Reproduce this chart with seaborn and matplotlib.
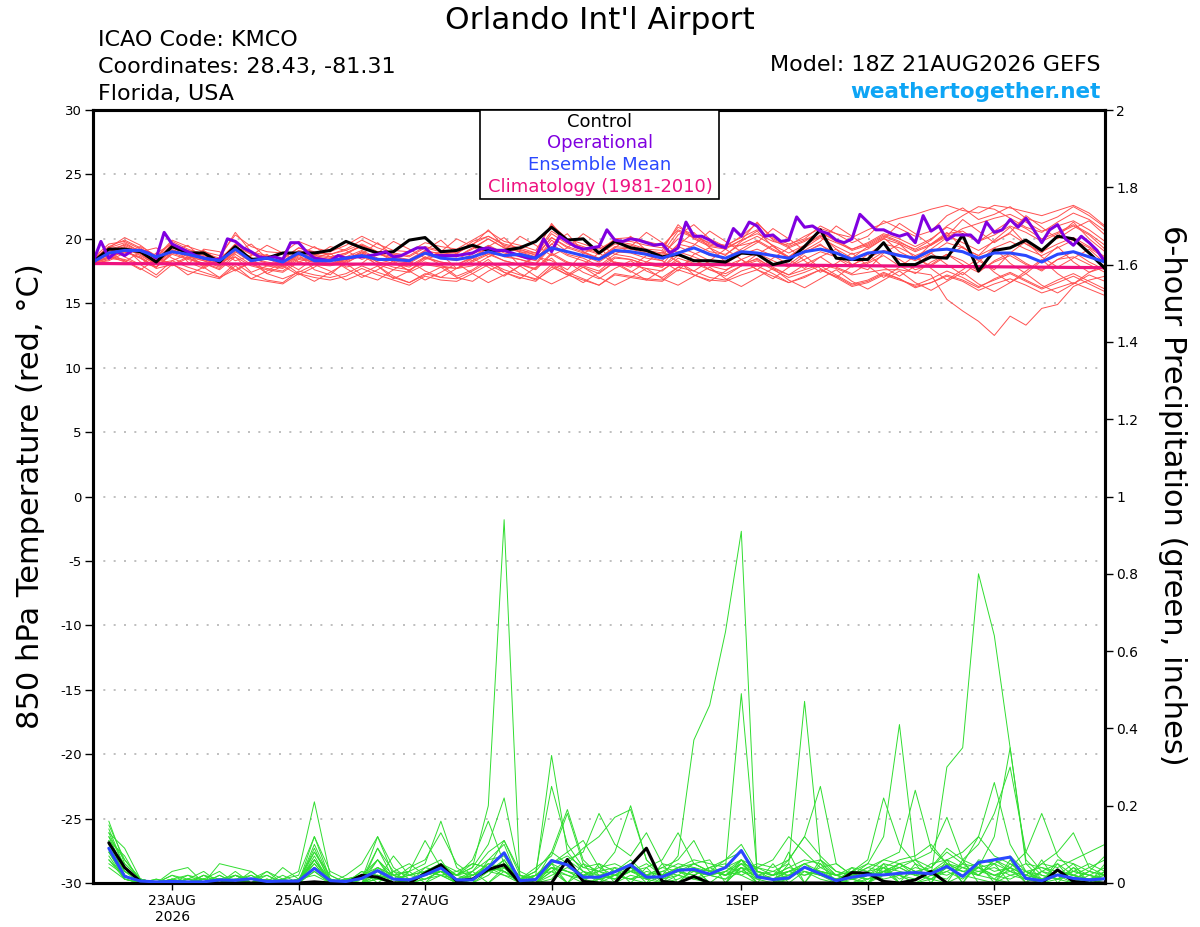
import numpy as np
import pandas as pd
import matplotlib
matplotlib.use("Agg")
import matplotlib.pyplot as plt
from matplotlib.patches import Rectangle
import seaborn as sns

# GEFS 18Z run, 6-hourly out to 384 h (operational is 3-hourly)
RUN_START = "2026-08-21 18:00"

tick_dates = ["2026-08-23", "2026-08-25", "2026-08-27", "2026-08-29",
              "2026-09-01", "2026-09-03", "2026-09-05"]
tick_labels = ["23AUG\n2026", "25AUG", "27AUG", "29AUG", "1SEP", "3SEP", "5SEP"]
temp_ticks = [-30, -25, -20, -15, -10, -5, 0, 5, 10, 15, 20, 25, 30]
precip_ticks = [0, 0.2, 0.4, 0.6, 0.8, 1.0, 1.2, 1.4, 1.6, 1.8, 2.0]
precip_tick_labels = ["0", "0.2", "0.4", "0.6", "0.8", "1", "1.2", "1.4", "1.6", "1.8", "2"]

legend_labels = ["Control", "Operational", "Ensemble Mean", "Climatology (1981-2010)"]
legend_colors = ["black", "#8000e0", "#2a48ff", "#ee1280"]

# 850 hPa temperature (C), 65 steps
control_temp = [
    18.2, 19.2, 19.2, 19.0, 18.2, 19.4, 18.9, 18.9, 18.2, 19.4, 18.4, 18.5, 18.9,
    18.9, 18.9, 19.1, 19.8, 19.3, 18.9, 19.0, 19.9, 20.1, 19.0, 19.1, 19.5, 19.1,
    19.1, 19.3, 19.8, 20.9, 19.9, 20.0, 18.9, 19.8, 19.3, 19.1, 18.6, 18.8, 18.3,
    18.3, 18.2, 18.9, 18.8, 18.0, 18.3, 19.4, 20.7, 18.5, 18.4, 18.4, 19.7, 18.0,
    18.0, 18.6, 18.5, 20.3, 17.5, 19.1, 19.3, 19.9, 19.1, 20.2, 20.0, 18.9, 17.7,
]
mean_temp = [
    18.2, 18.9, 19.1, 19.1, 18.6, 19.0, 18.8, 18.5, 18.3, 19.2, 18.3, 18.5, 18.2,
    18.9, 18.3, 18.3, 18.5, 18.7, 18.4, 18.4, 18.3, 18.9, 18.5, 18.4, 18.6, 19.0,
    18.7, 18.8, 18.5, 19.3, 19.0, 18.7, 18.4, 19.1, 19.0, 18.8, 18.5, 18.9, 19.3,
    18.8, 18.5, 19.0, 18.9, 18.7, 18.5, 19.0, 19.2, 18.9, 18.4, 18.9, 19.0, 18.7,
    18.5, 19.1, 19.2, 19.0, 18.5, 18.9, 18.9, 18.7, 18.2, 18.8, 19.0, 18.6, 18.2,
]
climatology_temp = [
    18.08, 18.08, 18.07, 18.07, 18.07, 18.06, 18.06, 18.06, 18.06, 18.05, 18.05, 18.05, 18.05,
    18.05, 18.05, 18.04, 18.04, 18.04, 18.04, 18.04, 18.04, 18.04, 18.04, 18.04, 18.04, 18.04,
    18.04, 18.04, 18.04, 18.04, 18.03, 18.03, 18.03, 18.03, 18.02, 18.02, 18.02, 18.01, 18.01,
    18.00, 18.00, 17.99, 17.98, 17.97, 17.96, 17.95, 17.94, 17.93, 17.92, 17.91, 17.90, 17.89,
    17.88, 17.87, 17.86, 17.85, 17.84, 17.83, 17.82, 17.81, 17.80, 17.79, 17.78, 17.77, 17.76,
]
# operational, 129 steps (3-hourly)
operational_temp = [
    18.2, 19.8, 18.5, 19.0, 18.7, 19.1, 19.1, 18.9, 18.5, 20.5,
    19.6, 19.3, 19.0, 18.7, 18.5, 18.4, 18.4, 20.0, 19.8, 19.3,
    19.0, 18.6, 18.5, 18.6, 18.4, 19.7, 19.7, 19.0, 18.5, 18.4,
    18.3, 18.7, 18.5, 18.6, 18.6, 18.7, 18.8, 19.0, 18.6, 18.7,
    19.0, 19.3, 19.3, 18.7, 18.7, 18.7, 18.7, 18.8, 18.9, 19.2,
    19.3, 19.1, 19.1, 18.9, 18.7, 18.5, 18.5, 20.0, 19.0, 20.2,
    19.8, 19.4, 19.2, 19.3, 19.4, 20.7, 19.9, 19.8, 20.0, 19.9,
    19.7, 19.5, 19.6, 18.9, 19.3, 21.3, 20.2, 20.2, 19.9, 19.5,
    19.3, 20.8, 20.2, 21.3, 21.0, 20.2, 20.3, 19.8, 19.9, 21.7,
    20.9, 21.0, 20.6, 20.4, 19.9, 19.7, 20.0, 21.9, 21.3, 20.7,
    20.7, 20.4, 20.2, 20.4, 19.7, 21.8, 20.6, 21.0, 19.9, 20.3,
    20.3, 20.3, 19.7, 21.3, 20.5, 20.7, 21.5, 20.9, 21.6, 20.7,
    19.7, 20.7, 21.1, 20.0, 19.5, 20.2, 19.7, 19.1, 18.2,
]
temp_members = [
    [18.2, 19.0, 19.4, 18.8, 18.0, 19.2, 18.6, 18.3, 17.9, 19.0, 18.2, 18.0, 17.8,
     18.6, 18.3, 18.1, 18.4, 18.9, 18.2, 18.0, 17.9, 18.6, 18.2, 18.0, 18.5, 19.3,
     18.6, 18.4, 18.1, 19.6, 18.8, 18.5, 17.9, 18.8, 18.6, 18.2, 18.0, 19.4, 18.9,
     18.3, 18.1, 18.8, 19.2, 18.7, 18.0, 18.9, 19.6, 18.5, 17.8, 18.2, 19.0, 18.4,
     17.6, 18.0, 18.8, 18.3, 17.5, 18.2, 18.7, 18.0, 17.6, 18.4, 18.6, 18.0, 17.4],
    [18.4, 19.3, 20.1, 19.5, 18.6, 19.9, 19.4, 19.0, 18.7, 20.3, 19.4, 19.0, 18.9,
     19.8, 19.3, 19.0, 19.5, 20.2, 19.6, 19.1, 19.0, 19.7, 19.4, 19.2, 19.9, 20.6,
     19.8, 19.5, 19.1, 21.1, 20.0, 19.6, 19.2, 19.9, 19.8, 19.5, 19.3, 20.9, 20.3,
     19.6, 19.4, 20.2, 21.2, 20.1, 19.6, 20.0, 21.0, 20.4, 19.7, 20.2, 21.4, 20.8,
     20.2, 20.6, 21.8, 22.4, 21.5, 21.9, 22.5, 21.6, 21.2, 21.7, 22.5, 21.8, 20.9],
    [18.1, 18.6, 18.4, 18.0, 17.2, 18.3, 17.8, 17.4, 17.0, 18.1, 17.3, 16.8, 16.6,
     17.5, 17.2, 17.0, 17.3, 17.9, 17.4, 17.0, 16.6, 17.3, 17.0, 16.9, 17.5, 18.2,
     17.6, 17.2, 16.9, 18.0, 17.4, 16.9, 16.4, 17.3, 17.1, 16.9, 16.8, 17.8, 17.5,
     17.0, 16.8, 17.5, 17.9, 17.3, 16.6, 17.0, 17.6, 17.1, 16.4, 16.7, 17.3, 16.9,
     16.3, 16.6, 17.1, 16.7, 16.0, 16.5, 16.9, 16.4, 15.8, 16.2, 16.6, 16.1, 15.6],
    [18.3, 18.9, 19.0, 18.6, 17.8, 18.8, 18.4, 18.1, 17.6, 18.6, 17.9, 17.6, 17.4,
     18.2, 18.0, 17.9, 18.2, 18.7, 18.0, 17.6, 17.4, 18.0, 17.8, 17.7, 18.2, 18.8,
     18.3, 18.0, 17.7, 18.9, 18.2, 17.9, 17.5, 18.5, 18.4, 18.0, 17.8, 18.7, 18.3,
     17.9, 17.6, 18.1, 18.4, 17.8, 17.2, 17.6, 18.0, 17.7, 17.2, 17.4, 17.6, 17.6,
     17.4, 17.2, 15.3, 14.4, 13.6, 12.5, 14.0, 13.3, 14.6, 14.9, 16.3, 16.8, 17.1],
    [18.2, 18.8, 19.2, 18.9, 18.3, 19.5, 19.0, 18.6, 18.3, 19.4, 18.8, 18.5, 18.3,
     19.0, 18.7, 18.5, 18.9, 19.4, 18.8, 18.5, 18.3, 18.9, 18.7, 18.6, 19.3, 20.0,
     19.3, 19.0, 18.8, 20.4, 19.6, 19.2, 18.8, 19.6, 19.5, 19.1, 18.9, 20.6, 20.1,
     19.5, 19.3, 19.9, 20.4, 19.8, 19.5, 20.2, 20.8, 20.4, 20.1, 20.7, 21.2, 21.6,
     21.9, 22.3, 22.6, 22.2, 22.0, 22.6, 22.4, 22.1, 21.8, 22.2, 22.6, 22.0, 21.0],
    [18.0, 18.4, 19.1, 18.9, 18.1, 18.3, 18.8, 17.9, 18.2, 18.6, 17.4, 17.9, 18.3,
     17.6, 18.5, 18.9, 17.8, 18.1, 19.0, 18.2, 17.5, 18.4, 18.8, 17.7, 17.9, 18.6,
     19.2, 17.9, 18.6, 18.3, 17.6, 18.9, 19.4, 18.1, 17.8, 18.7, 18.3, 17.5, 18.8,
     19.3, 18.2, 17.9, 18.8, 19.5, 18.4, 17.7, 18.6, 19.2, 18.0, 17.6, 18.9, 19.6,
     18.5, 17.9, 18.7, 19.4, 18.3, 17.6, 18.9, 19.8, 18.6, 17.8, 18.5, 19.2, 18.1],
    [18.5, 19.6, 19.8, 19.2, 18.4, 19.6, 19.1, 18.9, 18.5, 20.5, 19.0, 18.7, 18.5,
     19.3, 18.9, 18.8, 19.1, 19.6, 19.0, 18.8, 18.6, 19.3, 19.0, 18.9, 19.5, 20.7,
     19.4, 19.1, 18.9, 21.2, 19.7, 19.3, 18.9, 19.8, 19.6, 19.2, 19.1, 21.1, 20.0,
     19.4, 19.2, 19.9, 21.3, 19.9, 19.3, 19.8, 20.5, 19.9, 19.2, 19.6, 20.3, 19.8,
     19.1, 19.6, 20.3, 19.7, 19.1, 19.8, 20.4, 19.6, 19.0, 19.6, 20.1, 19.4, 18.6],
    [18.3, 19.4, 18.6, 18.0, 18.9, 19.6, 18.2, 17.7, 18.4, 19.1, 18.6, 17.3, 17.9,
     18.8, 17.6, 17.2, 18.3, 19.0, 17.9, 16.9, 17.5, 18.6, 18.0, 17.1, 17.6, 18.4,
     17.4, 16.9, 17.8, 18.5, 17.3, 16.6, 17.4, 18.2, 17.5, 16.8, 17.6, 18.3, 17.2,
     16.7, 17.5, 18.4, 17.6, 16.9, 17.8, 18.7, 17.7, 17.0, 17.9, 18.8, 17.8, 17.1,
     17.9, 18.9, 18.0, 17.2, 18.2, 19.3, 18.1, 17.3, 18.3, 19.4, 18.2, 17.4, 17.8],
    [18.2, 18.9, 19.6, 19.0, 18.2, 19.3, 18.9, 18.5, 18.1, 19.3, 18.5, 18.2, 18.0,
     18.9, 18.5, 18.3, 18.6, 19.1, 18.5, 18.3, 18.1, 18.8, 18.5, 18.3, 18.8, 19.5,
     18.9, 18.6, 18.3, 19.9, 19.0, 18.7, 18.2, 19.0, 18.9, 18.5, 18.3, 19.6, 19.3,
     18.7, 18.5, 19.2, 19.9, 19.2, 18.6, 19.3, 20.1, 19.4, 18.8, 19.2, 20.0, 19.6,
     19.0, 19.5, 20.4, 20.6, 19.8, 20.3, 21.0, 20.5, 19.8, 20.4, 21.0, 20.3, 19.2],
    [18.1, 18.5, 19.3, 18.2, 17.8, 19.0, 19.5, 18.4, 18.0, 18.9, 19.6, 18.5, 17.9,
     18.7, 19.4, 18.6, 18.1, 18.8, 19.7, 18.7, 18.2, 19.1, 19.9, 18.8, 18.3, 19.4,
     20.1, 18.9, 18.5, 19.6, 20.4, 19.0, 18.4, 19.3, 20.2, 19.1, 18.6, 19.5, 20.5,
     19.3, 18.7, 19.8, 20.6, 19.4, 18.6, 19.5, 20.3, 19.2, 18.5, 19.4, 20.1, 19.0,
     18.4, 19.6, 20.5, 19.3, 18.7, 19.9, 20.9, 19.6, 18.9, 20.2, 21.3, 20.0, 19.0],
    [18.3, 19.2, 19.5, 18.9, 18.1, 19.4, 18.8, 18.4, 18.0, 19.1, 18.5, 18.1, 17.9,
     18.8, 18.6, 18.4, 18.8, 19.5, 18.9, 18.4, 18.2, 19.0, 18.9, 18.8, 19.8, 20.2,
     19.5, 19.2, 18.7, 20.1, 19.4, 19.0, 18.5, 19.3, 19.2, 18.9, 18.6, 20.3, 21.1,
     20.0, 19.4, 19.5, 19.8, 19.1, 18.6, 19.0, 19.5, 18.9, 18.4, 18.8, 19.6, 19.3,
     18.7, 19.2, 20.1, 20.8, 21.2, 21.6, 21.9, 21.3, 20.6, 21.0, 21.4, 20.7, 19.8],
    [18.2, 18.6, 19.0, 18.5, 17.7, 18.0, 18.6, 17.8, 17.0, 17.6, 18.2, 17.3, 16.9,
     17.4, 18.0, 17.5, 16.8, 17.3, 17.9, 17.1, 16.6, 17.2, 17.8, 17.0, 16.7, 17.5,
     18.1, 17.3, 16.8, 17.6, 18.2, 17.4, 16.9, 17.7, 18.3, 17.5, 17.0, 17.8, 18.4,
     17.6, 17.1, 17.9, 18.5, 17.7, 17.2, 18.0, 18.6, 17.8, 17.3, 18.1, 18.7, 17.9,
     17.3, 18.2, 18.8, 18.0, 17.4, 18.3, 18.9, 18.1, 17.5, 18.4, 19.0, 18.2, 17.6],
    [18.4, 19.4, 19.9, 19.3, 18.5, 19.8, 19.2, 18.8, 18.4, 19.6, 18.9, 18.6, 18.4,
     19.3, 19.0, 18.8, 19.2, 19.9, 19.3, 18.9, 18.7, 19.4, 19.1, 18.9, 19.6, 20.2,
     19.6, 19.3, 18.9, 20.6, 19.8, 19.4, 19.0, 20.0, 20.1, 19.8, 19.5, 20.7, 20.2,
     19.7, 19.5, 20.1, 20.7, 20.0, 19.4, 19.9, 20.5, 19.8, 19.1, 19.5, 20.2, 19.7,
     19.2, 19.9, 21.0, 21.8, 22.5, 22.3, 21.6, 20.9, 20.5, 21.3, 22.0, 21.5, 20.6],
    [18.0, 18.9, 18.3, 17.6, 18.4, 18.1, 17.2, 17.8, 18.5, 17.6, 16.9, 17.5, 18.2,
     17.3, 16.7, 17.4, 18.1, 17.2, 16.8, 17.6, 18.3, 17.5, 17.0, 17.7, 18.5, 17.8,
     17.1, 17.9, 18.7, 17.9, 17.2, 18.0, 18.9, 18.1, 17.4, 18.2, 19.0, 18.2, 17.5,
     18.3, 19.2, 18.4, 17.6, 18.5, 19.3, 18.3, 17.4, 18.1, 18.9, 17.9, 17.0, 17.8,
     18.7, 17.7, 16.8, 17.6, 18.5, 17.4, 16.6, 17.5, 18.4, 17.3, 16.5, 17.4, 18.0],
    [18.2, 19.1, 19.3, 18.7, 18.0, 19.1, 18.7, 18.3, 17.8, 19.2, 18.3, 17.9, 17.7,
     18.5, 18.2, 18.0, 18.4, 19.0, 18.4, 18.1, 17.8, 18.5, 18.2, 18.0, 18.6, 19.4,
     18.7, 18.4, 18.0, 19.4, 18.7, 18.3, 17.8, 18.6, 18.4, 18.0, 17.8, 19.0, 18.6,
     18.1, 17.9, 18.4, 18.9, 18.3, 17.8, 18.4, 19.0, 18.6, 18.0, 18.5, 19.1, 18.8,
     18.3, 18.9, 19.7, 19.3, 18.7, 19.3, 19.8, 19.2, 18.7, 19.3, 19.9, 19.3, 18.5],
    [18.1, 18.5, 18.3, 17.7, 17.0, 18.0, 17.5, 17.2, 16.9, 17.9, 16.9, 16.7, 16.5,
     17.3, 17.0, 16.8, 17.1, 17.7, 17.2, 16.8, 16.4, 17.1, 16.8, 16.7, 17.3, 18.0,
     17.4, 17.0, 16.7, 17.8, 17.2, 16.8, 16.4, 17.2, 17.0, 16.8, 16.7, 17.6, 17.2,
     16.8, 16.7, 17.2, 17.6, 17.1, 16.6, 17.1, 17.6, 17.0, 16.3, 16.6, 17.2, 16.8,
     16.4, 16.9, 17.5, 17.0, 16.3, 16.8, 17.3, 16.7, 16.1, 16.6, 17.1, 16.5, 15.9],
    [18.3, 18.7, 18.2, 19.0, 19.3, 18.5, 18.0, 19.2, 19.0, 18.3, 18.7, 19.5, 18.9,
     18.2, 18.6, 19.4, 19.1, 18.4, 18.9, 19.8, 19.2, 18.5, 19.0, 20.0, 19.4, 18.6,
     19.1, 20.2, 19.5, 18.7, 19.3, 20.4, 19.6, 18.8, 19.4, 20.5, 19.7, 18.9, 19.5,
     20.6, 19.8, 19.0, 19.7, 20.8, 20.0, 19.1, 19.8, 21.0, 20.2, 19.3, 20.0, 21.2,
     20.4, 19.5, 20.2, 21.5, 20.6, 19.7, 20.5, 21.8, 20.9, 20.0, 20.8, 21.4, 20.3],
    [18.2, 18.8, 19.0, 18.5, 17.8, 18.9, 18.5, 18.1, 17.7, 18.8, 18.0, 17.7, 17.5,
     18.4, 18.2, 18.0, 18.3, 18.8, 18.2, 17.8, 17.6, 18.2, 17.9, 17.7, 18.3, 18.9,
     18.3, 18.0, 17.6, 18.8, 18.1, 17.8, 17.3, 18.2, 18.0, 17.7, 17.5, 18.5, 18.1,
     17.6, 17.3, 17.9, 18.3, 17.6, 17.0, 17.4, 17.9, 17.2, 16.5, 16.8, 17.4, 16.9,
     16.2, 16.6, 17.2, 16.8, 16.2, 16.9, 17.4, 16.8, 16.2, 16.8, 17.3, 16.7, 16.1],
    [18.4, 19.3, 19.7, 19.0, 18.3, 19.5, 19.0, 18.7, 18.3, 19.6, 18.8, 18.4, 18.2,
     19.1, 18.8, 18.6, 18.9, 19.5, 18.9, 18.6, 18.4, 19.1, 18.8, 18.6, 19.2, 20.0,
     19.3, 19.0, 18.6, 20.1, 19.3, 18.9, 18.5, 19.4, 19.3, 19.0, 18.8, 20.0, 19.6,
     19.0, 18.8, 19.6, 20.2, 19.5, 18.9, 19.5, 20.2, 19.7, 19.2, 19.7, 20.4, 20.0,
     19.4, 20.0, 20.9, 20.4, 19.8, 20.6, 21.4, 20.8, 20.0, 20.5, 21.1, 20.4, 19.5],
    [18.1, 18.3, 18.9, 19.4, 18.7, 17.9, 18.5, 19.1, 18.3, 17.5, 18.2, 18.8, 17.9,
     17.2, 17.8, 18.5, 17.7, 17.0, 17.6, 18.3, 17.5, 16.8, 17.4, 18.1, 17.3, 16.6,
     17.2, 17.9, 17.1, 16.5, 17.1, 17.8, 17.0, 16.4, 17.0, 17.7, 16.9, 16.4, 17.1,
     17.8, 16.9, 16.3, 17.0, 17.7, 16.8, 16.2, 16.9, 17.6, 16.7, 16.1, 16.8, 17.5,
     16.6, 16.0, 16.7, 17.4, 16.5, 15.9, 16.6, 17.3, 16.4, 15.8, 16.5, 17.2, 16.7],
]

# 6-hour precipitation (inches), 64 steps starting at +6 h
control_precip = [
    0.104, 0.040, 0.004, 0, 0, 0, 0, 0, 0, 0, 0, 0, 0, 0.003, 0, 0,
    0.020, 0.015, 0, 0, 0.025, 0.047, 0.005, 0.010, 0.035, 0.047, 0, 0, 0, 0.061, 0.004, 0,
    0, 0.045, 0.090, 0.004, 0, 0.017, 0, 0, 0, 0, 0, 0, 0, 0, 0, 0.027,
    0.025, 0.004, 0, 0.008, 0.030, 0, 0, 0, 0, 0, 0, 0, 0.034, 0.004, 0, 0,
]
mean_precip = [
    0.090, 0.017, 0.005, 0.003, 0.004, 0.003, 0.003, 0.008, 0.007, 0.011, 0.004, 0.005, 0.005, 0.038, 0.006, 0.004,
    0.012, 0.032, 0.010, 0.008, 0.021, 0.039, 0.008, 0.008, 0.040, 0.078, 0.006, 0.009, 0.058, 0.047, 0.015, 0.015,
    0.029, 0.047, 0.015, 0.016, 0.033, 0.035, 0.023, 0.040, 0.084, 0.016, 0.009, 0.013, 0.041, 0.024, 0.006, 0.015,
    0.021, 0.021, 0.025, 0.027, 0.024, 0.043, 0.017, 0.053, 0.060, 0.067, 0.012, 0.006, 0.021, 0.012, 0.008, 0.011,
]
precip_members = [
    [0.12, 0.03, 0, 0, 0, 0.01, 0, 0, 0.02, 0, 0, 0, 0.01, 0.04, 0.01, 0,
     0, 0.02, 0.01, 0, 0.03, 0.05, 0.02, 0.04, 0.20, 0.94, 0.01, 0, 0.03, 0.02, 0, 0.01,
     0.02, 0.05, 0.01, 0, 0.02, 0.01, 0, 0.03, 0.02, 0, 0, 0.01, 0.04, 0.02, 0, 0.01,
     0, 0.02, 0.05, 0.03, 0.01, 0, 0.02, 0.04, 0.01, 0, 0, 0.03, 0.01, 0, 0.02, 0.01],
    [0.08, 0.02, 0, 0, 0.01, 0, 0.02, 0, 0, 0.01, 0, 0, 0, 0.06, 0, 0,
     0.01, 0.04, 0.02, 0, 0.01, 0.02, 0, 0, 0.03, 0.06, 0, 0.02, 0.05, 0.03, 0.01, 0,
     0.02, 0.01, 0.03, 0.02, 0.07, 0.37, 0.46, 0.65, 0.91, 0.02, 0.01, 0, 0.03, 0.02, 0.01, 0,
     0.01, 0.03, 0.02, 0, 0.01, 0.04, 0.02, 0.01, 0, 0.02, 0.03, 0, 0.01, 0.02, 0, 0.01],
    [0.06, 0.01, 0, 0, 0, 0, 0.01, 0, 0.01, 0, 0, 0, 0, 0.03, 0, 0,
     0, 0.01, 0, 0.01, 0.02, 0.03, 0, 0.01, 0.05, 0.03, 0, 0, 0.02, 0.04, 0.02, 0.01,
     0, 0.02, 0.01, 0.03, 0.02, 0.01, 0.03, 0.02, 0.05, 0.01, 0, 0.02, 0.03, 0.01, 0, 0.02,
     0.03, 0.01, 0.02, 0, 0.02, 0.30, 0.35, 0.80, 0.64, 0.35, 0.05, 0.01, 0.02, 0, 0.01, 0.02],
    [0.16, 0.05, 0.01, 0, 0.02, 0.01, 0, 0.01, 0, 0.02, 0, 0.01, 0.03, 0.21, 0.02, 0,
     0, 0.03, 0, 0.01, 0.02, 0.04, 0.01, 0, 0.02, 0.06, 0, 0.01, 0.08, 0.05, 0.02, 0.03,
     0.01, 0.04, 0.02, 0.01, 0.02, 0.05, 0.03, 0.04, 0.49, 0.03, 0.01, 0.02, 0.04, 0.03, 0.01, 0,
     0.02, 0.04, 0.01, 0.03, 0.02, 0.01, 0.05, 0.02, 0.06, 0.03, 0.01, 0, 0.02, 0.01, 0, 0.03],
    [0.10, 0.02, 0, 0.01, 0, 0, 0.02, 0.01, 0, 0, 0.01, 0, 0, 0.09, 0, 0.01,
     0.02, 0.06, 0.01, 0, 0.01, 0.03, 0, 0.02, 0.05, 0.04, 0, 0, 0.01, 0.06, 0.03, 0.02,
     0.01, 0.03, 0.02, 0, 0.01, 0.03, 0.02, 0.01, 0.05, 0.02, 0.03, 0.05, 0.47, 0.06, 0.02, 0.01,
     0, 0.03, 0.05, 0.02, 0.01, 0.04, 0.03, 0.02, 0.01, 0.05, 0.02, 0.01, 0.03, 0.02, 0.01, 0],
    [0.14, 0.04, 0, 0, 0.01, 0.02, 0.01, 0, 0.01, 0, 0, 0.01, 0, 0.12, 0.01, 0,
     0.01, 0.02, 0.01, 0, 0.03, 0.02, 0.01, 0.03, 0.06, 0.10, 0, 0.02, 0.33, 0.08, 0.03, 0.01,
     0.02, 0.01, 0, 0.02, 0.03, 0.01, 0.02, 0.04, 0.06, 0.02, 0.01, 0.03, 0.05, 0.02, 0.01, 0.02,
     0.05, 0.12, 0.41, 0.06, 0.02, 0.03, 0.01, 0.04, 0.02, 0.01, 0.03, 0.02, 0.01, 0.04, 0.02, 0.01],
    [0.13, 0.09, 0.01, 0, 0, 0.01, 0, 0.02, 0, 0.01, 0, 0, 0.01, 0.06, 0.01, 0,
     0.02, 0.04, 0.02, 0.03, 0.05, 0.16, 0.04, 0.01, 0.03, 0.02, 0, 0.01, 0.04, 0.02, 0.01, 0.03,
     0.02, 0.04, 0.01, 0.02, 0.03, 0.02, 0.04, 0.02, 0.03, 0.01, 0.02, 0.06, 0.12, 0.25, 0.05, 0.02,
     0.01, 0.02, 0.04, 0.02, 0.01, 0.03, 0.05, 0.04, 0.12, 0.35, 0.06, 0.02, 0.01, 0.03, 0.02, 0.01],
    [0.11, 0.02, 0, 0, 0.01, 0, 0, 0.01, 0.02, 0, 0.01, 0, 0, 0.04, 0, 0.01,
     0, 0.01, 0.03, 0.02, 0.01, 0.03, 0.02, 0.04, 0.10, 0.22, 0.02, 0, 0.05, 0.07, 0.04, 0.03,
     0.08, 0.20, 0.06, 0.02, 0.03, 0.04, 0.02, 0.01, 0.03, 0.02, 0.01, 0.03, 0.04, 0.02, 0.01, 0.03,
     0.06, 0.22, 0.10, 0.05, 0.03, 0.06, 0.08, 0.12, 0.26, 0.10, 0.03, 0.01, 0.02, 0.05, 0.03, 0.02],
    [0.09, 0.03, 0.01, 0, 0, 0, 0.01, 0, 0, 0.03, 0, 0, 0, 0.10, 0.01, 0,
     0.01, 0.12, 0.02, 0.01, 0.02, 0.04, 0.02, 0.06, 0.16, 0.05, 0.01, 0.03, 0.08, 0.19, 0.06, 0.02,
     0.03, 0.05, 0.02, 0.04, 0.06, 0.11, 0.03, 0.02, 0.04, 0.02, 0.01, 0.02, 0.05, 0.03, 0.02, 0.04,
     0.03, 0.06, 0.08, 0.24, 0.09, 0.05, 0.03, 0.02, 0.05, 0.07, 0.03, 0.01, 0.02, 0.01, 0.03, 0.02],
    [0.07, 0.01, 0, 0, 0, 0.01, 0.03, 0, 0, 0.01, 0.02, 0, 0.01, 0.08, 0.02, 0,
     0, 0.09, 0.01, 0, 0.02, 0.05, 0.03, 0.02, 0.04, 0.03, 0.01, 0.02, 0.03, 0.06, 0.08, 0.18,
     0.10, 0.07, 0.13, 0.05, 0.04, 0.03, 0.02, 0.03, 0.05, 0.04, 0.06, 0.12, 0.08, 0.04, 0.02, 0.01,
     0.02, 0.03, 0.02, 0.04, 0.03, 0.05, 0.04, 0.02, 0.06, 0.04, 0.08, 0.18, 0.07, 0.03, 0.02, 0.04],
    [0.15, 0.06, 0.01, 0, 0.01, 0, 0, 0.01, 0.01, 0.02, 0, 0.01, 0.02, 0.12, 0.03, 0.01,
     0.02, 0.03, 0.01, 0.02, 0.04, 0.03, 0.01, 0.02, 0.04, 0.08, 0.01, 0.03, 0.25, 0.10, 0.04, 0.05,
     0.03, 0.06, 0.02, 0.03, 0.05, 0.04, 0.03, 0.06, 0.08, 0.03, 0.02, 0.04, 0.06, 0.05, 0.02, 0.03,
     0.02, 0.05, 0.04, 0.06, 0.08, 0.17, 0.06, 0.04, 0.05, 0.03, 0.02, 0.05, 0.08, 0.13, 0.04, 0.02],
    [0.05, 0.02, 0, 0.01, 0, 0.01, 0, 0, 0.02, 0.01, 0, 0, 0.01, 0.05, 0, 0.02,
     0.05, 0.12, 0.04, 0.01, 0.02, 0.03, 0.01, 0.02, 0.03, 0.04, 0.01, 0.02, 0.06, 0.05, 0.09, 0.12,
     0.17, 0.19, 0.06, 0.02, 0.03, 0.05, 0.03, 0.02, 0.04, 0.03, 0.02, 0.03, 0.02, 0.04, 0.05, 0.02,
     0.03, 0.04, 0.03, 0.02, 0.05, 0.06, 0.04, 0.05, 0.03, 0.04, 0.02, 0.05, 0.04, 0.06, 0.08, 0.10],
    [0.13, 0.04, 0, 0, 0.02, 0, 0.01, 0.03, 0, 0, 0.01, 0, 0, 0.07, 0, 0.01,
     0.01, 0.06, 0.02, 0.03, 0.11, 0.04, 0.02, 0.01, 0.03, 0.05, 0.02, 0.01, 0.04, 0.03, 0.02, 0.04,
     0.05, 0.03, 0.04, 0.06, 0.13, 0.05, 0.03, 0.02, 0.06, 0.04, 0.02, 0.03, 0.05, 0.06, 0.03, 0.02,
     0.04, 0.03, 0.05, 0.06, 0.04, 0.08, 0.05, 0.12, 0.07, 0.05, 0.03, 0.04, 0.02, 0.03, 0.05, 0.03],
    [0.10, 0.05, 0.01, 0, 0, 0.02, 0, 0, 0, 0.01, 0.03, 0.01, 0, 0.04, 0.01, 0,
     0.03, 0.02, 0.01, 0.04, 0.06, 0.13, 0.05, 0.02, 0.04, 0.03, 0.01, 0.02, 0.05, 0.08, 0.11, 0.04,
     0.02, 0.03, 0.05, 0.02, 0.04, 0.06, 0.05, 0.04, 0.03, 0.05, 0.04, 0.06, 0.12, 0.07, 0.03, 0.02,
     0.04, 0.06, 0.05, 0.03, 0.04, 0.09, 0.06, 0.10, 0.18, 0.30, 0.08, 0.03, 0.05, 0.02, 0.01, 0.03],
    [0.08, 0.01, 0, 0, 0, 0, 0, 0.01, 0, 0, 0, 0, 0, 0.03, 0, 0,
     0, 0.02, 0, 0, 0, 0.02, 0, 0.03, 0, 0.04, 0, 0, 0.03, 0, 0.05, 0,
     0.04, 0, 0, 0.05, 0, 0.04, 0, 0, 0.04, 0, 0, 0.05, 0, 0, 0, 0.04,
     0, 0.05, 0, 0, 0, 0.06, 0, 0.05, 0, 0.06, 0, 0, 0.05, 0, 0, 0.05],
    [0.11, 0.07, 0, 0, 0.03, 0.04, 0, 0.05, 0.04, 0.03, 0, 0.04, 0.01, 0.02, 0, 0,
     0.02, 0.01, 0.07, 0.02, 0.03, 0.02, 0.03, 0.05, 0.04, 0.02, 0.01, 0.04, 0.07, 0.18, 0.05, 0.03,
     0.04, 0.03, 0.02, 0.04, 0.03, 0.02, 0.04, 0.05, 0.02, 0.04, 0.03, 0.02, 0.04, 0.03, 0.02, 0.03,
     0.05, 0.04, 0.06, 0.07, 0.10, 0.05, 0.03, 0.04, 0.02, 0.03, 0.05, 0.04, 0.03, 0.02, 0.04, 0.06],
    [0.06, 0.02, 0, 0, 0, 0, 0.02, 0, 0.03, 0, 0.03, 0, 0, 0.06, 0, 0,
     0.03, 0, 0.03, 0, 0.04, 0.06, 0, 0, 0, 0.03, 0, 0, 0.04, 0, 0, 0.05,
     0, 0.04, 0, 0, 0.04, 0.05, 0.06, 0, 0.04, 0, 0.05, 0, 0, 0.06, 0, 0,
     0, 0.04, 0, 0.05, 0, 0, 0.06, 0, 0, 0.04, 0, 0.06, 0, 0.04, 0, 0],
    [0.04, 0.01, 0, 0, 0, 0, 0, 0.02, 0, 0, 0, 0.02, 0, 0.05, 0, 0,
     0, 0.06, 0, 0.03, 0, 0.04, 0, 0, 0.06, 0.07, 0, 0, 0.05, 0, 0.03, 0,
     0, 0, 0.04, 0, 0, 0.04, 0, 0, 0.06, 0, 0, 0.08, 0, 0.05, 0, 0,
     0, 0.03, 0, 0, 0, 0.05, 0, 0.06, 0.05, 0, 0, 0, 0.06, 0.05, 0, 0],
    [0.09, 0.03, 0.01, 0, 0, 0.01, 0.01, 0, 0.02, 0, 0.02, 0, 0, 0.08, 0.01, 0,
     0.01, 0.09, 0.03, 0.05, 0.02, 0.03, 0.02, 0.05, 0.04, 0.11, 0.02, 0.01, 0.06, 0.05, 0.02, 0.01,
     0.02, 0.01, 0.02, 0.01, 0.03, 0.02, 0.04, 0.06, 0.10, 0.03, 0.02, 0.04, 0.03, 0.02, 0.01, 0.02,
     0.01, 0.03, 0.02, 0.01, 0.03, 0.04, 0.02, 0.03, 0.04, 0.02, 0.01, 0.03, 0.02, 0.01, 0.03, 0.07],
    [0.12, 0.06, 0.01, 0, 0, 0, 0.01, 0.01, 0, 0.01, 0, 0, 0, 0.06, 0, 0.01,
     0, 0.04, 0.01, 0.02, 0.03, 0.05, 0.02, 0.03, 0.08, 0.11, 0.03, 0.01, 0.04, 0.03, 0.01, 0.02,
     0.01, 0.03, 0.01, 0.02, 0.04, 0.03, 0.02, 0.03, 0.06, 0.02, 0.01, 0.03, 0.02, 0.03, 0.02, 0.01,
     0.02, 0.03, 0.04, 0.02, 0.03, 0.02, 0.04, 0.03, 0.02, 0.04, 0.02, 0.01, 0.03, 0.02, 0.01, 0.02],
]


def long_frame(members, times, value_name):
    return pd.DataFrame({
        "time": np.tile(times, len(members)),
        value_name: np.concatenate(members),
        "member": np.repeat(np.arange(len(members)), len(times)),
    })


def plot_meteogram(output_path="out.png"):
    times = pd.date_range(RUN_START, periods=len(control_temp), freq="6h")
    op_times = pd.date_range(RUN_START, periods=len(operational_temp), freq="3h")
    precip_times = times[1:]

    sns.set_theme(style="ticks", rc={
        "axes.edgecolor": "black", "xtick.color": "black", "ytick.color": "black",
        "text.color": "black", "axes.labelcolor": "black",
    })
    plt.rcParams["font.family"] = ["DejaVu Sans"]

    W, H = 1200, 927
    fig = plt.figure(figsize=(W / 100, H / 100), dpi=100)
    ax = fig.add_axes([93 / W, 1 - 883 / H, (1105 - 93) / W, (883 - 110) / H])
    ax2 = ax.twinx()

    # temperature (left axis)
    temp_df = long_frame(temp_members, times, "temp")
    sns.lineplot(data=temp_df, x="time", y="temp", units="member", estimator=None,
                 color="#ff5050", linewidth=0.7, ax=ax, legend=False, zorder=2)
    sns.lineplot(x=times, y=climatology_temp, color="#ee1280", linewidth=2.3, ax=ax, zorder=3)
    sns.lineplot(x=times, y=control_temp, color="black", linewidth=2.2, ax=ax, zorder=4)
    sns.lineplot(x=op_times, y=operational_temp, color="#8000e0", linewidth=2.2, ax=ax, zorder=5)
    sns.lineplot(x=times, y=mean_temp, color="#2a48ff", linewidth=2.2, ax=ax, zorder=6)

    # precipitation (right axis)
    precip_df = long_frame(precip_members, precip_times, "precip")
    sns.lineplot(data=precip_df, x="time", y="precip", units="member", estimator=None,
                 color="#30dd30", linewidth=0.7, ax=ax2, legend=False, zorder=2)
    sns.lineplot(x=precip_times, y=control_precip, color="black", linewidth=2.2, ax=ax2, zorder=4)
    sns.lineplot(x=precip_times, y=mean_precip, color="#2a48ff", linewidth=2.2, ax=ax2, zorder=5)

    ax.set_xlim(times[0], times[-1])
    ax.set_ylim(-30, 30)
    ax2.set_ylim(0, 2)

    ax.set_xticks(pd.to_datetime(tick_dates))
    ax.set_xticklabels(tick_labels)
    ax.set_yticks(temp_ticks)
    ax.set_yticklabels([str(t) for t in temp_ticks])
    ax2.set_yticks(precip_ticks)
    ax2.set_yticklabels(precip_tick_labels)
    ax.set_xlabel("")
    ax.set_ylabel("")
    ax2.set_ylabel("")

    ax.grid(True, axis="y", color="#b4b4b4", linestyle=(0, (1.2, 5)), linewidth=1.2)
    ax.tick_params(axis="y", direction="out", length=6, width=1, labelsize=9.5, pad=2)
    ax.tick_params(axis="x", direction="out", length=5, width=1, labelsize=10, pad=3)
    ax2.tick_params(axis="y", direction="out", length=6, width=1, labelsize=10, pad=2)
    for a in (ax, ax2):
        for sp in a.spines.values():
            sp.set_visible(True)
            sp.set_linewidth(2.2)
            sp.set_color("black")

    fig.text(31 / W, 1 - 496 / H, "850 hPa Temperature (red, °C)", rotation=90,
             ha="center", va="center", fontsize=22)
    fig.text(1173 / W, 1 - 495 / H, "6-hour Precipitation (green, inches)", rotation=270,
             ha="center", va="center", fontsize=22)

    # header
    fig.text(0.5, 1 - 29 / H, "Orlando Int'l Airport", ha="center", va="baseline", fontsize=22.5)
    fig.text(98 / W, 1 - 46 / H, "ICAO Code: KMCO", ha="left", va="baseline", fontsize=16)
    fig.text(98 / W, 1 - 73 / H, "Coordinates: 28.43, -81.31", ha="left", va="baseline", fontsize=16)
    fig.text(98 / W, 1 - 100 / H, "Florida, USA", ha="left", va="baseline", fontsize=16)
    fig.text(1101 / W, 1 - 71 / H, "Model: 18Z 21AUG2026 GEFS", ha="right", va="baseline", fontsize=16)
    fig.text(1101 / W, 1 - 98 / H, "weathertogether.net", ha="right", va="baseline",
             fontsize=15.5, fontweight="bold", color="#0ea5f5")

    # legend box
    fig.patches.append(Rectangle((480 / W, 1 - 199 / H), (719 - 480) / W, (199 - 110) / H,
                                 transform=fig.transFigure, facecolor="white",
                                 edgecolor="black", linewidth=1.2, zorder=5))
    for label, color, base in zip(legend_labels, legend_colors, [127, 148, 170, 192]):
        fig.text(600 / W, 1 - base / H, label, ha="center", va="baseline",
                 fontsize=13, color=color, zorder=6)

    fig.savefig(output_path, dpi=100, facecolor="white")


if __name__ == "__main__":
    plot_meteogram()
